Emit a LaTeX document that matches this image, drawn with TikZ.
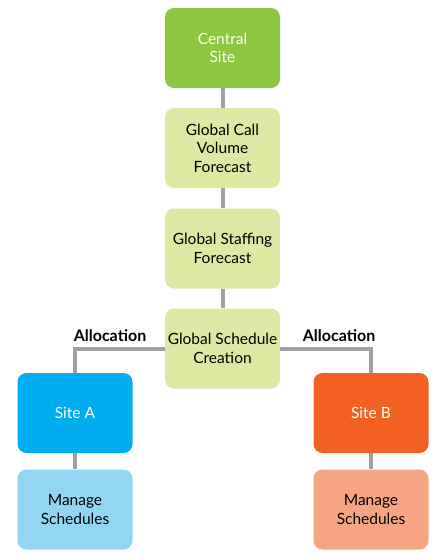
\documentclass[tikz,border=0pt]{standalone}
\usepackage{fontspec}
\setmainfont{Lato}
\definecolor{centralgreen}{HTML}{8DC63F}
\definecolor{lightgreen}{HTML}{DDE8A3}
\definecolor{siteblue}{HTML}{00AEEF}
\definecolor{lightblue}{HTML}{92D6F6}
\definecolor{siteorange}{HTML}{F26122}
\definecolor{lightorange}{HTML}{F7A482}
\definecolor{linkgray}{HTML}{A0A1A4}
\tikzset{
  box/.style={rounded corners=9pt, minimum width=115pt, minimum height=80pt,
    align=center, font=\fontsize{15.5}{18.5}\selectfont, inner sep=1pt},
  link/.style={draw=linkgray, line width=4pt}
}
\begin{document}
\begin{tikzpicture}[x=1pt,y=-1pt]
\useasboundingbox (0,0) rectangle (434,560);

\node[box, fill=centralgreen, text=white] (central) at (222.5,48) {Central\\Site};
\node[box, fill=lightgreen] (callvol) at (222.5,148) {Global Call\\Volume\\Forecast};
\node[box, fill=lightgreen] (staffing) at (222.5,248.5) {Global Staffing\\Forecast};
\node[box, fill=lightgreen] (schedule) at (222.5,348.5) {Global Schedule\\Creation};

\node[box, fill=siteblue, text=white] (siteA) at (75,413) {Site A};
\node[box, fill=lightblue] (manageA) at (75,509.5) {Manage\\Schedules};
\node[box, fill=siteorange, text=white] (siteB) at (371,413) {Site B};
\node[box, fill=lightorange] (manageB) at (371,509.5) {Manage\\Schedules};

\draw[link] (central) -- (callvol);
\draw[link] (callvol) -- (staffing);
\draw[link] (staffing) -- (schedule);
\draw[link] (schedule.west) -| (siteA.north);
\draw[link] (schedule.east) -| (siteB.north);
\draw[link] (siteA) -- (manageA);
\draw[link] (siteB) -- (manageB);

\node[font=\fontsize{16}{18}\selectfont\bfseries] (allocA) at (110,336) {Allocation};
\node[font=\fontsize{16}{18}\selectfont\bfseries] (allocB) at (339,336) {Allocation};

\end{tikzpicture}
\end{document}
